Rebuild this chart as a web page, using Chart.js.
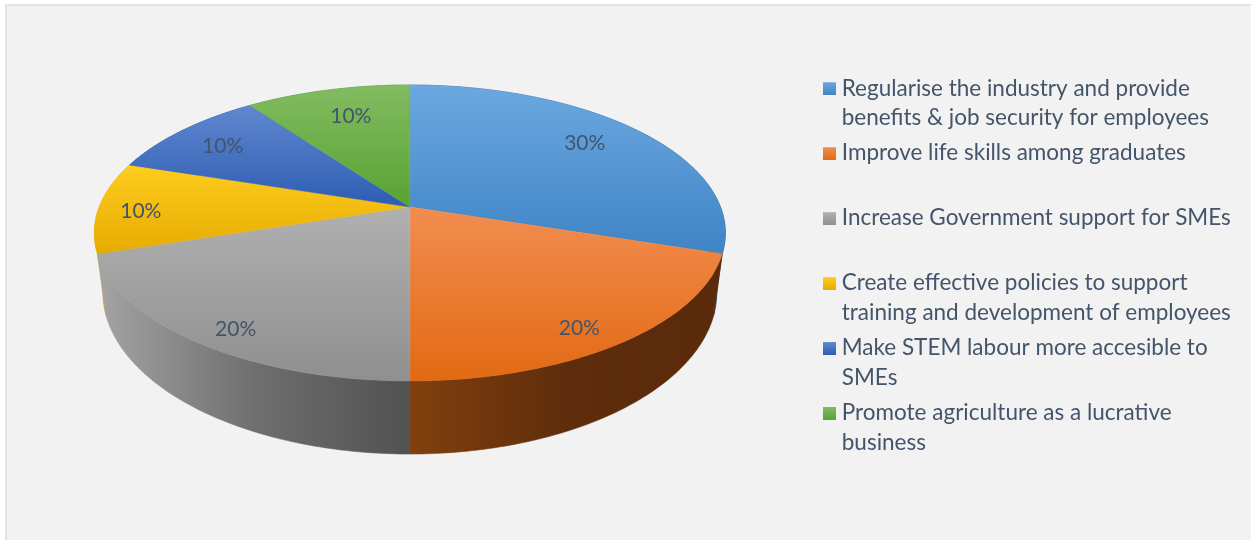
<!DOCTYPE html>
<html>
<head>
<meta charset="utf-8">
<title>Pie</title>
<script src="https://cdn.jsdelivr.net/npm/chart.js@4"></script>
<style>
  html, body { margin: 0; padding: 0; background: #fff; overflow: hidden; }
  #fundo { position: absolute; left: 5px; top: 4px; right: 0; bottom: 0; background: #f2f2f2;
           border-left: 2px solid #e0e3ea; border-top: 2px solid #e0e3ea; }
  #grafico { position: absolute; left: 0; top: 0; }
</style>
</head>
<body>
<div id="fundo"></div>
<canvas id="grafico" width="1251" height="540"></canvas>
<script>
// Data
const categories = [
  ['Regularise the industry and provide', 'benefits & job security for employees'],
  ['Improve life skills among graduates', ''],
  ['Increase Government support for SMEs', ''],
  ['Create effective policies to support', 'training and development of employees'],
  ['Make STEM labour more accesible to', 'SMEs'],
  ['Promote agriculture as a lucrative', 'business']
];
const shares = [30, 20, 20, 10, 10, 10];

// Top face colours (light, dark) and side wall colours
const topLight = ['#6ba8e1', '#f28d50', '#b0b0b0', '#ffcc20', '#6088cf', '#82bc60'];
const topDark = ['#3f84c5', '#e26a13', '#8f8f8f', '#e6ab00', '#2d5cb3', '#58a233'];
const wallColors = [
  ['#2c5a8c', '#2c5a8c', '#24486f'],
  ['#80400e', '#5f2d0b', '#5a2a0b'],
  ['#a4a4a4', '#6f6f6f', '#515151'],
  ['#d9a900', '#d9a900', '#d9a900'],
  ['#23478a', '#23478a', '#23478a'],
  ['#44792a', '#44792a', '#44792a']
];
const wallOrder = [5, 4, 3, 0, 2, 1]; // far walls first

// Where each percentage sits on the disc (radius fraction, extra y)
const labelRadius = [0.75, 0.82, 0.84, 0.866, 0.807, 0.685];
const labelShiftY = [-5, 14, 12, 4, 2, -7];

const fontFamily = 'Lato, "Open Sans", sans-serif';
const textColor = '#44546a';

// Perspective of the disc, as fractions of the library's radius
const topPlane = { a: 1.5005, b: 0.6928, q: 0.1757, c: 0 };
const lowPlane = { a: 1.46, b: 0.7575, q: 0.1757, c: 0.2744 };

// Maps a point of the flat pie (angle from library, radius fraction) to the screen
function projeta(arc, plane, angle, frac) {
  const theta = angle + Math.PI / 2;
  const s = Math.sin(theta) * frac;
  const u = -Math.cos(theta) * frac;
  const w = 1 - plane.q * u;
  return {
    x: arc.x + arc.outerRadius * plane.a * s / w,
    y: arc.y + arc.outerRadius * (plane.c + plane.b * u / w)
  };
}

function rim(arc, plane) {
  const pts = [];
  const steps = 80;
  for (let k = 0; k <= steps; k++) {
    pts.push(projeta(arc, plane, arc.startAngle + (arc.endAngle - arc.startAngle) * k / steps, 1));
  }
  return pts;
}

function desenhaPolygon(ctx, pts) {
  ctx.beginPath();
  pts.forEach((p, k) => k ? ctx.lineTo(p.x, p.y) : ctx.moveTo(p.x, p.y));
  ctx.closePath();
}

const pie3d = {
  id: 'pie3d',
  beforeDatasetsDraw(chart) {
    const ctx = chart.ctx;
    const arcs = chart.getDatasetMeta(0).data;
    ctx.save();

    // Side walls
    wallOrder.forEach(i => {
      const upper = rim(arcs[i], topPlane);
      const lower = rim(arcs[i], lowPlane).reverse();
      const xs = upper.concat(lower).map(p => p.x);
      const grad = ctx.createLinearGradient(Math.min(...xs), 0, Math.max(...xs), 0);
      wallColors[i].forEach((c, k) => grad.addColorStop(k / 2, c));
      desenhaPolygon(ctx, upper.concat(lower));
      ctx.fillStyle = grad;
      ctx.fill();
      ctx.strokeStyle = grad;
      ctx.lineWidth = 0.6;
      ctx.stroke();
    });

    // Top faces
    arcs.forEach((arc, i) => {
      const pts = [{ x: arc.x, y: arc.y }].concat(rim(arc, topPlane));
      const ys = pts.map(p => p.y);
      const grad = ctx.createLinearGradient(0, Math.min(...ys), 0, Math.max(...ys));
      grad.addColorStop(0, topLight[i]);
      grad.addColorStop(1, topDark[i]);
      desenhaPolygon(ctx, pts);
      ctx.fillStyle = grad;
      ctx.fill();
      ctx.strokeStyle = grad;
      ctx.lineWidth = 0.5;
      ctx.stroke();
    });

    // Percent labels
    const total = shares.reduce((a, b) => a + b, 0);
    ctx.font = '21px ' + fontFamily;
    ctx.fillStyle = textColor;
    ctx.textAlign = 'center';
    ctx.textBaseline = 'middle';
    arcs.forEach((arc, i) => {
      const p = projeta(arc, topPlane, (arc.startAngle + arc.endAngle) / 2, labelRadius[i]);
      ctx.fillText(Math.round(shares[i] / total * 100) + '%', p.x, p.y + labelShiftY[i]);
    });

    ctx.restore();
    return false; // the flat pie is not drawn
  },
  afterLayout(chart) {
    // Legend sits in its own spot, not where the layout leaves it
    chart.legend.left = 822.5;
    chart.legend.right = 1251;
    chart.legend.top = 71;
    chart.legend.bottom = 540;
  }
};

// Legend swatch with its own small gradient
function amostra(i) {
  const c = document.createElement('canvas');
  c.width = 13;
  c.height = 14;
  const g = c.getContext('2d');
  const grad = g.createLinearGradient(0, 1, 0, 14);
  grad.addColorStop(0, topLight[i]);
  grad.addColorStop(1, topDark[i]);
  g.fillStyle = grad;
  g.fillRect(0, 1, 13, 13);
  return c;
}

new Chart(document.getElementById('grafico').getContext('2d'), {
  type: 'pie',
  data: {
    labels: categories,
    datasets: [{ data: shares, backgroundColor: topDark, borderWidth: 0 }]
  },
  options: {
    responsive: false,
    animation: false,
    layout: { padding: { right: 13, bottom: 126 } },
    plugins: {
      tooltip: { enabled: false },
      legend: {
        position: 'right',
        align: 'start',
        labels: {
          usePointStyle: true,
          boxWidth: 2,
          padding: 6,
          color: textColor,
          font: { family: fontFamily, size: 22.5, lineHeight: 1.31 },
          generateLabels: chart => chart.data.labels.map((text, i) => ({
            text: text,
            fontColor: textColor,
            pointStyle: amostra(i),
            lineWidth: 0,
            index: i
          }))
        }
      }
    }
  },
  plugins: [pie3d]
});
</script>
</body>
</html>
